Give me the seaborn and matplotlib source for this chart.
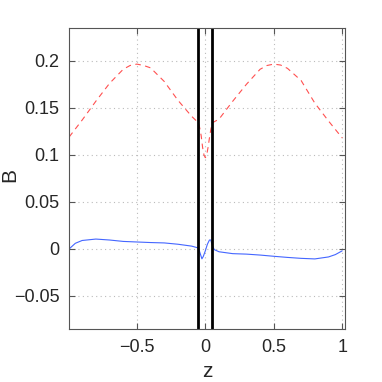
import numpy as np
import pandas as pd
import matplotlib
matplotlib.use("Agg")
import matplotlib.pyplot as plt
import seaborn as sns

# ---------------- data ----------------

z_red = [-0.995, -0.9, -0.8, -0.7, -0.6, -0.55, -0.5, -0.45, -0.4, -0.3, -0.2, -0.1, -0.05,
         -0.04, -0.03, -0.02, -0.01, 0.0, 0.01, 0.02, 0.03, 0.04, 0.05,
         0.1, 0.2, 0.3, 0.4, 0.45, 0.5, 0.55, 0.6, 0.7, 0.8, 0.9, 1.0]
b_red = [0.119, 0.137, 0.157, 0.176, 0.191, 0.1950, 0.1965, 0.1950, 0.1925, 0.178, 0.158, 0.141, 0.134,
         0.128, 0.120, 0.108, 0.100, 0.097, 0.100, 0.108, 0.118, 0.127, 0.134,
         0.138, 0.157, 0.175, 0.191, 0.1950, 0.1965, 0.1955, 0.192, 0.179, 0.155, 0.136, 0.118]

z_blue = [-0.995, -0.95, -0.9, -0.8, -0.7, -0.6, -0.5, -0.4, -0.3, -0.2, -0.1,
          -0.05, -0.035, -0.025, -0.015, 0.0, 0.015, 0.03, 0.04, 0.05, 0.065,
          0.1, 0.2, 0.3, 0.4, 0.5, 0.6, 0.7, 0.8, 0.9, 0.95, 1.0]
b_blue = [0.0, 0.006, 0.009, 0.0105, 0.0095, 0.008, 0.0074, 0.0068, 0.0064, 0.005, 0.003,
          0.001, -0.006, -0.0105, -0.008, -0.002, 0.005, 0.0095, 0.0095, 0.004, -0.0007,
          -0.003, -0.005, -0.0055, -0.0065, -0.0078, -0.009, -0.010, -0.0106, -0.0085, -0.006, -0.002]

walls = [-0.05, 0.05]

x_ticks = [-0.5, 0, 0.5, 1]
x_labels = ["\u22120.5", "0", "0.5", "1"]
y_ticks = [-0.05, 0, 0.05, 0.1, 0.15, 0.2]
y_labels = ["\u22120.05", "0", "0.05", "0.1", "0.15", "0.2"]

# ---------------- plot ----------------

sns.set_style("ticks")
plt.rcParams["font.family"] = ["Liberation Sans", "DejaVu Sans"]

fig = plt.figure(figsize=(3.82, 3.82), dpi=100)
ax = fig.add_axes([0.181, 0.139, 0.722, 0.788])

red = pd.DataFrame({"z": z_red, "B": b_red})
blue = pd.DataFrame({"z": z_blue, "B": b_blue})

sns.lineplot(data=red, x="z", y="B", ax=ax, color="#ff5050",
             linestyle=(0, (5, 4)), linewidth=0.8, sort=False)
sns.lineplot(data=blue, x="z", y="B", ax=ax, color="#4466ff",
             linewidth=0.8, sort=False)

for w in walls:
    ax.axvline(w, color="black", linewidth=2)

ax.set_xlim(-0.995, 1.02)
ax.set_ylim(-0.085, 0.235)
ax.set_xticks(x_ticks)
ax.set_xticklabels(x_labels)
ax.set_yticks(y_ticks)
ax.set_yticklabels(y_labels)

ax.grid(True, linestyle=(0, (1, 3)), color="#bbbbbb", linewidth=0.8)
ax.tick_params(direction="in", top=True, right=True, length=4,
               color="#555555", labelsize=13, pad=7)
for s in ax.spines.values():
    s.set_visible(True)
    s.set_color("#555555")
    s.set_linewidth(0.8)

ax.set_xlabel("z", fontsize=15)
ax.set_ylabel("B", fontsize=15)
ax.xaxis.set_label_coords(0.5, -0.11)
ax.yaxis.set_label_coords(-0.18, 0.51)

fig.savefig("out.png", dpi=100)
